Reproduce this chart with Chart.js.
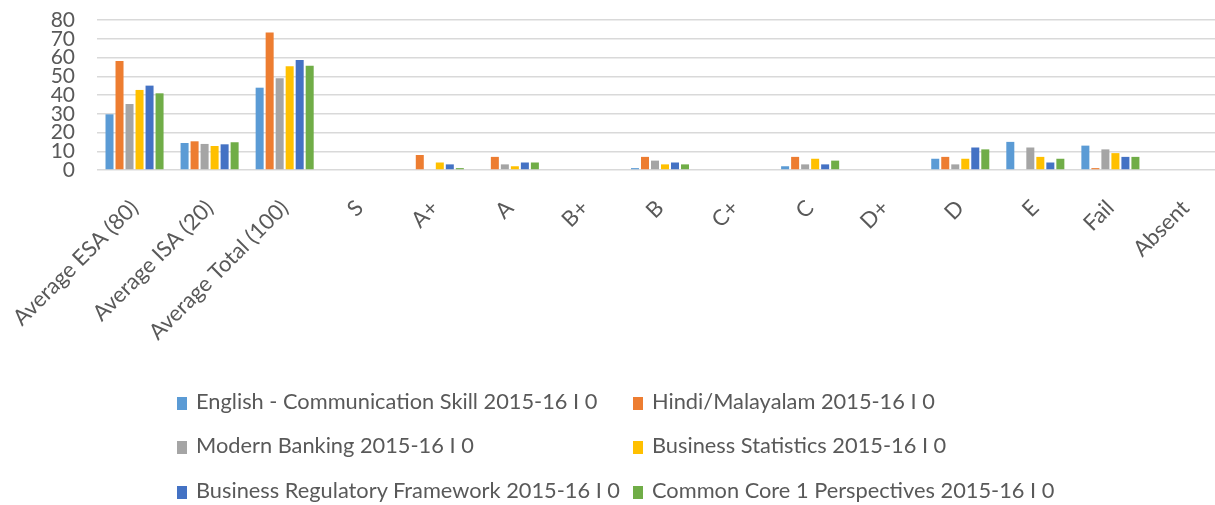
<!DOCTYPE html>
<html>
<head>
<meta charset="utf-8">
<script src="https://cdn.jsdelivr.net/npm/chart.js@4.4.0/dist/chart.umd.min.js"></script>
<style>
  html, body { margin:0; padding:0; background:#fff; overflow:hidden; }
  #wrap { position:relative; width:1215px; height:505px; overflow:hidden; }
  #chart { position:absolute; left:0; top:0; }
  .legend { position:absolute; font-family:"Lato","Liberation Sans",sans-serif; font-size:21.8px; line-height:26px; color:#595959; white-space:nowrap; }
  .legend span.box { display:inline-block; width:10px; height:13px; margin-right:9px; vertical-align:-1px; }
</style>
</head>
<body>
<div id="wrap">
  <canvas id="chart" width="1223" height="505"></canvas>
  <div id="legend"></div>
</div>
<script>
// categories along the x axis
const categories = ["Average ESA (80)", "Average ISA (20)", "Average Total (100)", "S", "A+", "A", "B+", "B", "C+", "C", "D+", "D", "E", "Fail", "Absent"];

// one list per subject
const english    = [29.7, 14.4, 43.9, 0, 0, 0, 0, 1, 0, 2, 0, 6, 15, 13, 0];
const hindi      = [58.1, 15.3, 73.4, 0, 8, 7, 0, 7, 0, 7, 0, 7, 0, 1, 0];
const banking    = [35.2, 13.9, 49.0, 0, 0, 3, 0, 5, 0, 3, 0, 3, 12, 11, 0];
const statistics = [42.7, 12.8, 55.3, 0, 4, 2, 0, 3, 0, 6, 0, 6, 7, 9, 0];
const regulatory = [45.0, 13.7, 58.7, 0, 3, 4, 0, 4, 0, 3, 0, 12, 4, 7, 0];
const commonCore = [40.9, 14.8, 55.6, 0, 1, 4, 0, 3, 0, 5, 0, 11, 6, 7, 0];

const seriesNames = [
  "English - Communication Skill 2015-16 I 0",
  "Hindi/Malayalam 2015-16 I 0",
  "Modern Banking 2015-16 I 0",
  "Business Statistics 2015-16 I 0",
  "Business Regulatory Framework 2015-16 I 0",
  "Common Core 1 Perspectives 2015-16 I 0"
];
const seriesColors = ["#5B9BD5", "#ED7D31", "#A5A5A5", "#FFC000", "#4472C4", "#70AD47"];
const seriesData = [english, hindi, banking, statistics, regulatory, commonCore];

const yTicks = [0, 10, 20, 30, 40, 50, 60, 70, 80];

const font = "'Lato', 'Liberation Sans', sans-serif";

new Chart(document.getElementById("chart"), {
  type: "bar",
  data: {
    labels: categories,
    datasets: seriesData.map((d, i) => ({
      label: seriesNames[i],
      data: d,
      backgroundColor: seriesColors[i],
      borderWidth: 0,
      categoryPercentage: 0.8,
      barPercentage: 0.8
    }))
  },
  options: {
    responsive: false,
    animation: false,
    layout: { padding: { top: 20, bottom: 155, left: 0, right: 0 } },
    plugins: { legend: { display: false }, tooltip: { enabled: false } },
    scales: {
      x: {
        // room for the long rotated labels, and no extra left shift
        afterFit: s => { s.paddingLeft = 0; s.paddingRight = 0; s.height = 180; },
        grid: { display: false, drawTicks: false },
        border: { display: false },
        ticks: {
          autoSkip: false, maxRotation: 45, minRotation: 45,
          color: "#595959", font: { family: font, size: 22 }, padding: 25
        }
      },
      y: {
        min: 0, max: 80,
        afterFit: s => { s.width = 97; s.paddingTop = 0; s.paddingBottom = 0; },
        afterBuildTicks: s => { s.ticks = yTicks.map(v => ({ value: v })); },
        grid: { color: "#d9d9d9", lineWidth: 1.5, drawTicks: false },
        border: { display: false },
        ticks: { autoSkip: false, color: "#595959", font: { family: font, size: 21 }, padding: 22 }
      }
    }
  }
});

// two-column legend like the original
const legendPos = [[177, 401], [633, 401], [177, 445], [633, 445], [177, 490], [633, 490]];
const legendEl = document.getElementById("legend");
seriesNames.forEach((name, i) => {
  const div = document.createElement("div");
  div.className = "legend";
  div.style.left = legendPos[i][0] + "px";
  div.style.top = (legendPos[i][1] - 13) + "px";
  div.innerHTML = '<span class="box" style="background:' + seriesColors[i] + '"></span>' + name;
  legendEl.appendChild(div);
});
</script>
</body>
</html>
